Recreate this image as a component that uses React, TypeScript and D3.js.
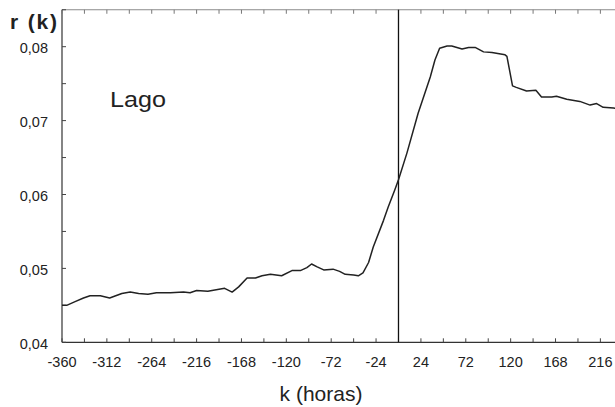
import React from "react";
import * as d3 from "d3";

// Lag k in hours and the autocorrelation r(k) at each lag
const hours = [
  -360, -355, -346, -337, -330, -319, -309, -296, -287, -278, -268, -259, -244,
  -230, -223, -216, -204, -186, -178, -171, -162, -153, -146, -137, -125, -114,
  -105, -98, -93, -87, -80, -70, -63, -57, -48, -43, -38, -32, -27, -16, -11, -4,
  0, 9, 21, 34, 39, 44, 52, 57, 68, 75, 82, 91, 100, 114, 116, 122, 126, 137, 147,
  153, 164, 169, 180, 194, 205, 212, 219, 230, 240,
];
const rValues = [
  0.045, 0.045, 0.0455, 0.046, 0.0463, 0.0463, 0.046, 0.0466, 0.0468, 0.0466,
  0.0465, 0.0467, 0.0467, 0.0468, 0.0467, 0.047, 0.0469, 0.0473, 0.0468, 0.0475,
  0.0487, 0.0487, 0.049, 0.0492, 0.049, 0.0497, 0.0497, 0.0501, 0.0506, 0.0502,
  0.0498, 0.0499, 0.0496, 0.0492, 0.0491, 0.049, 0.0494, 0.0508, 0.0529, 0.0565,
  0.0583, 0.0606, 0.062, 0.0656, 0.071, 0.0759, 0.0782, 0.0798, 0.0801, 0.0801,
  0.0797, 0.0799, 0.0799, 0.0793, 0.0792, 0.0789, 0.0787, 0.0747, 0.0745, 0.074,
  0.0741, 0.0732, 0.0732, 0.0733, 0.0729, 0.0726, 0.0721, 0.0723, 0.0718, 0.0717,
  0.0715,
];

const xTickLabels = [-360, -312, -264, -216, -168, -120, -72, -24, 24, 72, 120, 168, 216];
const yTickLabels = [0.04, 0.05, 0.06, 0.07, 0.08];

const W = 615;
const H = 407;
const FONT = "'Liberation Sans', Arial, Helvetica, sans-serif";

export default function App() {
  const x = d3.scaleLinear().domain([-360, 240]).range([62, 62 + 600 * 0.9347]);
  const y = d3.scaleLinear().domain([0.04, 0.085]).range([342.3, 342.3 - 0.045 * 7390]);

  const pts = hours.map((h, i) => [h, rValues[i]] as [number, number]);
  const line = d3
    .line<[number, number]>()
    .x((d) => x(d[0]))
    .y((d) => y(d[1]));

  const minorX = d3.range(-360, 241, 24);
  const minorY = d3.range(0.04, 0.0851, 0.005);
  const fmt = (v: number) => v.toFixed(2).replace(".", ",");

  const x0 = x(-360);
  const x1 = x(240);
  const yb = y(0.04);
  const yt = y(0.085);

  return (
    <div style={{ position: "fixed", left: 0, top: 0, width: W, height: H, background: "#fff" }}>
      <svg width={W} height={H} style={{ display: "block" }}>
        <rect width={W} height={H} fill="#fff" />

        {/* frame: gray top border, dark left and bottom axes */}
        <line x1={x0} x2={x1} y1={yt} y2={yt} stroke="#8a8a8a" strokeWidth={1.2} />
        <line x1={x0} x2={x0} y1={yt} y2={yb} stroke="#333" strokeWidth={1.2} />
        <line x1={x0} x2={x1} y1={yb} y2={yb} stroke="#333" strokeWidth={1.2} />

        {/* inward ticks */}
        {minorX.map((t) => (
          <g key={"xt" + t}>
            <line x1={x(t)} x2={x(t)} y1={yb} y2={yb - 4} stroke="#444" strokeWidth={1} />
            <line x1={x(t)} x2={x(t)} y1={yt} y2={yt + 4} stroke="#777" strokeWidth={1} />
          </g>
        ))}
        {minorY.map((t, i) => (
          <line key={"yt" + i} x1={x0} x2={x0 + 4} y1={y(t)} y2={y(t)} stroke="#444" strokeWidth={1} />
        ))}

        {/* tick labels */}
        {xTickLabels.map((t) => (
          <text
            key={"xl" + t}
            x={x(t)}
            y={366.5}
            textAnchor="middle"
            fontFamily={FONT}
            fontSize={14.5}
            fill="#222"
          >
            {t}
          </text>
        ))}
        {yTickLabels.map((t) => (
          <text
            key={"yl" + t}
            x={48}
            y={y(t) + 6.3}
            textAnchor="end"
            fontFamily={FONT}
            fontSize={14.5}
            fill="#222"
          >
            {fmt(t)}
          </text>
        ))}

        {/* reference line at k = 0 */}
        <line x1={x(0)} x2={x(0)} y1={yt} y2={yb} stroke="#111" strokeWidth={1.3} />

        {/* r(k) curve */}
        <path d={line(pts) ?? ""} fill="none" stroke="#222" strokeWidth={1.5} strokeLinejoin="round" />

        {/* titles */}
        <text
          x={10}
          y={29}
          fontFamily={FONT}
          fontWeight="bold"
          fontSize={21}
          textLength={47}
          lengthAdjust="spacing"
          fill="#222"
        >
          r (k)
        </text>
        <text
          x={110}
          y={107.3}
          fontFamily={FONT}
          fontSize={22}
          textLength={56}
          lengthAdjust="spacingAndGlyphs"
          fill="#222"
        >
          Lago
        </text>
        <text x={321} y={401} textAnchor="middle" fontFamily={FONT} fontSize={21} fill="#222">
          k (horas)
        </text>
      </svg>
    </div>
  );
}
